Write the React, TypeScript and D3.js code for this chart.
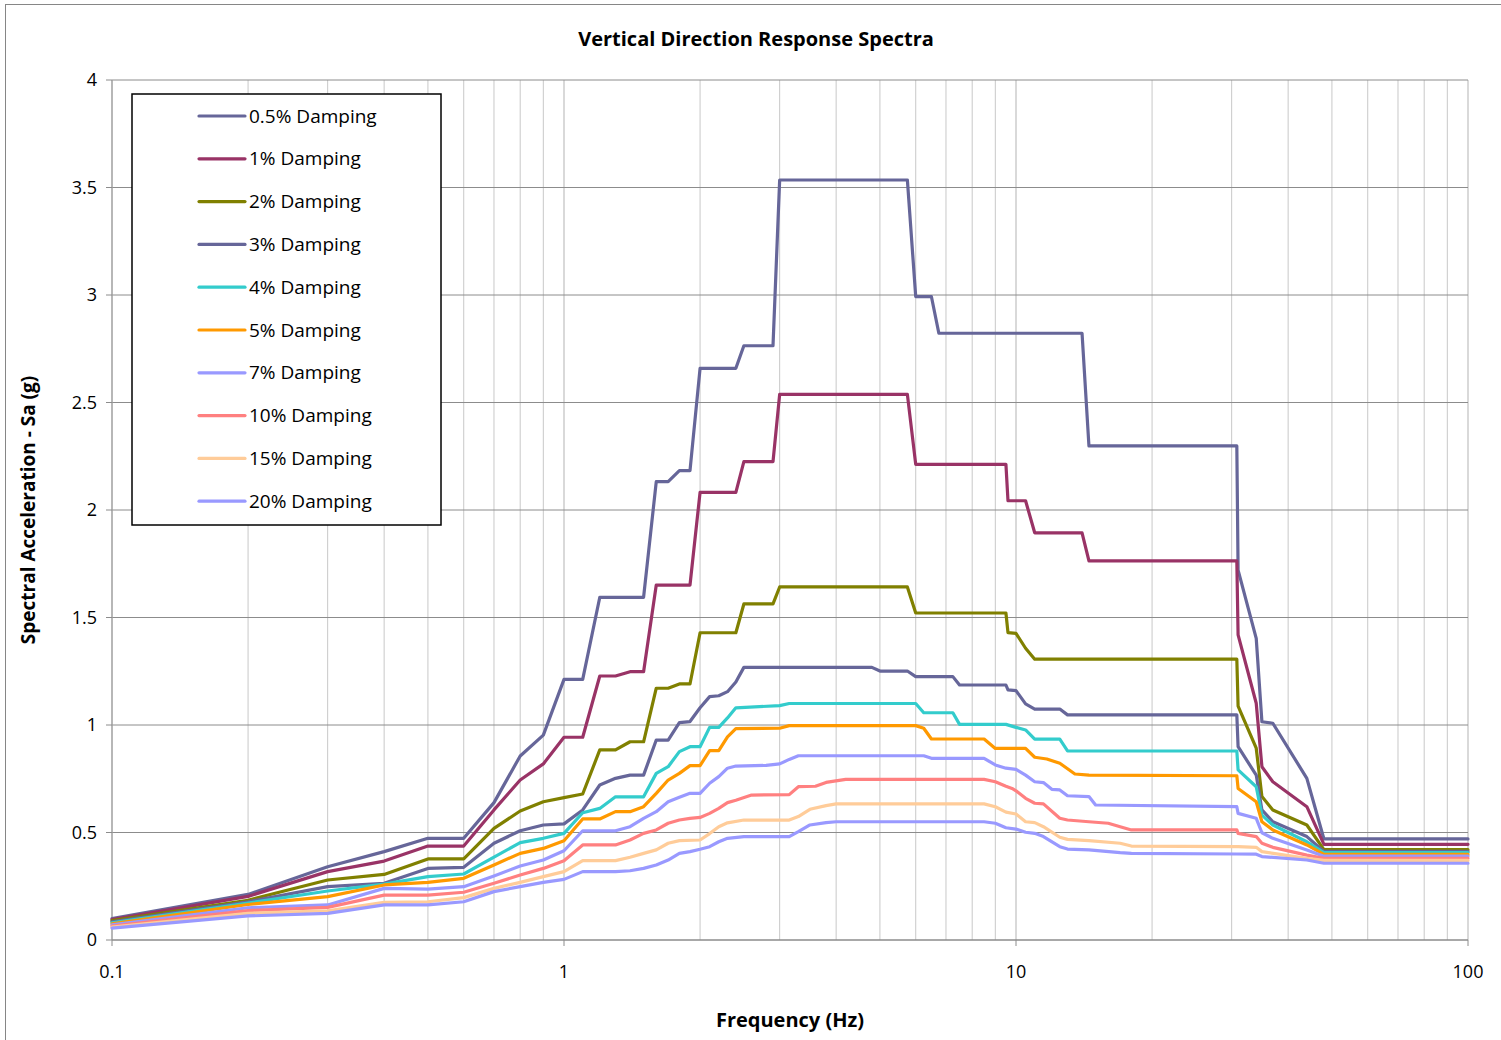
import React from "react";
import * as d3 from "d3";

const TITLE = "Vertical Direction Response Spectra";
const X_LABEL = "Frequency (Hz)";
const Y_LABEL = "Spectral Acceleration - Sa (g)";
const X_TICKS = [0.1, 1, 10, 100];
const Y_TICKS = [0, 0.5, 1, 1.5, 2, 2.5, 3, 3.5, 4];

const SERIES_NAMES = [
  "0.5% Damping", "1% Damping", "2% Damping", "3% Damping", "4% Damping",
  "5% Damping", "7% Damping", "10% Damping", "15% Damping", "20% Damping",
];
const SERIES_COLORS = [
  "#666699", "#993366", "#808000", "#666699", "#33CCCC",
  "#FF9900", "#9999FF", "#FF8080", "#FFCC99", "#9999FF",
];

// [frequency Hz, Sa g]
const damp05: [number, number][] = [
  [0.1, 0.1], [0.2, 0.212], [0.3, 0.341], [0.4, 0.411], [0.5, 0.473], [0.6, 0.473],
  [0.7, 0.639], [0.8, 0.856], [0.9, 0.953], [1.0, 1.212], [1.1, 1.212], [1.2, 1.594],
  [1.5, 1.594], [1.6, 2.132], [1.7, 2.132], [1.8, 2.183], [1.9, 2.183], [2.0, 2.659],
  [2.4, 2.659], [2.5, 2.764], [2.9, 2.764], [3.0, 3.535], [5.75, 3.535], [6.0, 2.992],
  [6.5, 2.992], [6.75, 2.822], [14, 2.822], [14.5, 2.298], [30.8, 2.298], [31, 1.72],
  [34, 1.403], [35, 1.015], [37, 1.008], [44, 0.752], [48, 0.47], [100, 0.47],
];
const damp1: [number, number][] = [
  [0.1, 0.095], [0.2, 0.203], [0.3, 0.318], [0.4, 0.367], [0.5, 0.437], [0.6, 0.437],
  [0.7, 0.605], [0.8, 0.744], [0.9, 0.819], [1.0, 0.943], [1.1, 0.943], [1.2, 1.228],
  [1.3, 1.228], [1.4, 1.248], [1.5, 1.248], [1.6, 1.651], [1.9, 1.651], [2.0, 2.082],
  [2.4, 2.082], [2.5, 2.225], [2.9, 2.225], [3.0, 2.538], [5.75, 2.538], [6.0, 2.212],
  [9.5, 2.212], [9.6, 2.043], [10.5, 2.043], [11, 1.894], [14, 1.894], [14.5, 1.763],
  [30.8, 1.763], [31, 1.419], [34, 1.101], [35, 0.806], [37, 0.736], [44, 0.62],
  [48, 0.445], [100, 0.445],
];
const damp2: [number, number][] = [
  [0.1, 0.09], [0.2, 0.185], [0.3, 0.279], [0.4, 0.305], [0.5, 0.377], [0.6, 0.377],
  [0.7, 0.519], [0.8, 0.6], [0.9, 0.643], [1.0, 0.662], [1.1, 0.679], [1.2, 0.884],
  [1.3, 0.884], [1.4, 0.922], [1.5, 0.922], [1.6, 1.171], [1.7, 1.171], [1.8, 1.191],
  [1.9, 1.191], [2.0, 1.429], [2.4, 1.429], [2.5, 1.563], [2.9, 1.563], [3.0, 1.642],
  [5.75, 1.642], [6.0, 1.521], [9.5, 1.521], [9.6, 1.43], [10, 1.426], [10.5, 1.357],
  [11, 1.306], [30.8, 1.306], [31, 1.088], [34, 0.892], [35, 0.667], [37, 0.605],
  [44, 0.535], [48, 0.42], [100, 0.42],
];
const damp3: [number, number][] = [
  [0.1, 0.085], [0.2, 0.178], [0.3, 0.248], [0.4, 0.264], [0.5, 0.333], [0.6, 0.338],
  [0.7, 0.45], [0.8, 0.508], [0.9, 0.535], [1.0, 0.54], [1.1, 0.605], [1.2, 0.721],
  [1.3, 0.752], [1.4, 0.767], [1.5, 0.767], [1.6, 0.93], [1.7, 0.93], [1.8, 1.011],
  [1.9, 1.016], [2.0, 1.08], [2.1, 1.132], [2.2, 1.136], [2.3, 1.155], [2.4, 1.2],
  [2.5, 1.268], [4.8, 1.268], [5.0, 1.251], [5.75, 1.251], [6.0, 1.225], [7.25, 1.225],
  [7.5, 1.186], [9.5, 1.186], [9.6, 1.163], [10, 1.16], [10.5, 1.098], [11, 1.074],
  [12.5, 1.074], [13, 1.047], [30.8, 1.047], [31, 0.899], [34, 0.767], [35, 0.605],
  [37, 0.55], [44, 0.481], [48, 0.412], [100, 0.412],
];
const damp4: [number, number][] = [
  [0.1, 0.08], [0.2, 0.172], [0.3, 0.228], [0.4, 0.26], [0.5, 0.295], [0.6, 0.307],
  [0.7, 0.385], [0.8, 0.453], [0.9, 0.473], [1.0, 0.496], [1.1, 0.592], [1.2, 0.612],
  [1.3, 0.666], [1.5, 0.666], [1.6, 0.775], [1.7, 0.806], [1.8, 0.876], [1.9, 0.899],
  [2.0, 0.899], [2.1, 0.989], [2.2, 0.989], [2.3, 1.033], [2.4, 1.08], [3.0, 1.09],
  [3.15, 1.1], [6.0, 1.1], [6.25, 1.057], [7.25, 1.057], [7.5, 1.003], [9.5, 1.003],
  [10, 0.989], [10.5, 0.977], [11, 0.934], [12.5, 0.934], [13, 0.88], [30.8, 0.879],
  [31, 0.791], [34, 0.713], [35, 0.581], [37, 0.535], [44, 0.457], [48, 0.407], [100, 0.407],
];
const damp5: [number, number][] = [
  [0.1, 0.075], [0.2, 0.165], [0.3, 0.202], [0.4, 0.256], [0.5, 0.268], [0.6, 0.287],
  [0.7, 0.349], [0.8, 0.403], [0.9, 0.426], [1.0, 0.462], [1.1, 0.563], [1.2, 0.563],
  [1.3, 0.597], [1.4, 0.597], [1.5, 0.62], [1.6, 0.682], [1.7, 0.744], [1.8, 0.775],
  [1.9, 0.811], [2.0, 0.811], [2.1, 0.881], [2.2, 0.881], [2.3, 0.945], [2.4, 0.983],
  [3.0, 0.985], [3.15, 0.997], [6.0, 0.997], [6.25, 0.985], [6.5, 0.935], [8.5, 0.935],
  [9.0, 0.891], [10.5, 0.891], [11, 0.85], [11.7, 0.842], [12.5, 0.822], [13.5, 0.772],
  [14.5, 0.767], [30.8, 0.764], [31, 0.705], [34, 0.643], [35, 0.55], [37, 0.512],
  [44, 0.442], [48, 0.398], [100, 0.398],
];
const damp7: [number, number][] = [
  [0.1, 0.07], [0.2, 0.15], [0.3, 0.163], [0.4, 0.24], [0.5, 0.237], [0.6, 0.248],
  [0.7, 0.298], [0.8, 0.344], [0.9, 0.372], [1.0, 0.415], [1.1, 0.508], [1.3, 0.508],
  [1.4, 0.527], [1.5, 0.566], [1.6, 0.597], [1.7, 0.643], [1.8, 0.664], [1.9, 0.682],
  [2.0, 0.682], [2.1, 0.729], [2.2, 0.76], [2.3, 0.799], [2.4, 0.809], [2.8, 0.812],
  [3.0, 0.819], [3.15, 0.84], [3.3, 0.857], [6.25, 0.857], [6.5, 0.845], [8.5, 0.845],
  [9.0, 0.814], [9.5, 0.799], [10, 0.794], [10.5, 0.767], [11, 0.736], [11.5, 0.732],
  [12, 0.701], [12.5, 0.698], [13, 0.671], [14.5, 0.667], [15, 0.628], [30.8, 0.62],
  [31, 0.589], [34, 0.566], [35, 0.499], [37, 0.473], [44, 0.419], [48, 0.39], [100, 0.39],
];
const damp10: [number, number][] = [
  [0.1, 0.065], [0.2, 0.137], [0.3, 0.152], [0.4, 0.209], [0.5, 0.209], [0.6, 0.222],
  [0.7, 0.264], [0.8, 0.302], [0.9, 0.333], [1.0, 0.369], [1.1, 0.442], [1.3, 0.442],
  [1.4, 0.465], [1.5, 0.496], [1.6, 0.512], [1.7, 0.543], [1.8, 0.558], [1.9, 0.566],
  [2.0, 0.57], [2.1, 0.589], [2.2, 0.612], [2.3, 0.639], [2.4, 0.65], [2.6, 0.674],
  [3.15, 0.676], [3.3, 0.713], [3.6, 0.715], [3.8, 0.733], [4.2, 0.747], [8.5, 0.747],
  [9.0, 0.736], [9.5, 0.715], [9.8, 0.705], [10, 0.694], [10.5, 0.659], [11, 0.636],
  [11.5, 0.633], [12.5, 0.566], [13, 0.558], [14.5, 0.55], [16, 0.543], [17, 0.527],
  [18, 0.512], [30.8, 0.512], [31, 0.496], [34, 0.481], [35, 0.45], [37, 0.431],
  [44, 0.395], [48, 0.38], [100, 0.38],
];
const damp15: [number, number][] = [
  [0.1, 0.06], [0.2, 0.124], [0.3, 0.136], [0.4, 0.175], [0.5, 0.178], [0.6, 0.197],
  [0.7, 0.24], [0.8, 0.268], [0.9, 0.295], [1.0, 0.318], [1.1, 0.369], [1.3, 0.369],
  [1.4, 0.385], [1.5, 0.403], [1.6, 0.419], [1.7, 0.45], [1.8, 0.462], [2.0, 0.465],
  [2.1, 0.495], [2.2, 0.527], [2.3, 0.545], [2.5, 0.558], [3.15, 0.558], [3.3, 0.574],
  [3.5, 0.608], [3.8, 0.625], [4.0, 0.633], [8.5, 0.633], [9.0, 0.62], [9.5, 0.595],
  [10, 0.586], [10.5, 0.55], [11, 0.546], [11.5, 0.527], [12.5, 0.478], [13, 0.468],
  [14.5, 0.462], [17, 0.45], [18, 0.437], [31, 0.434], [34, 0.431], [35, 0.411],
  [44, 0.38], [48, 0.37], [100, 0.37],
];
const damp20: [number, number][] = [
  [0.1, 0.055], [0.2, 0.112], [0.3, 0.124], [0.4, 0.163], [0.5, 0.163], [0.6, 0.178],
  [0.7, 0.225], [0.8, 0.248], [0.9, 0.268], [1.0, 0.282], [1.1, 0.318], [1.3, 0.318],
  [1.4, 0.322], [1.5, 0.333], [1.6, 0.349], [1.7, 0.372], [1.8, 0.403], [1.9, 0.411],
  [2.0, 0.422], [2.1, 0.434], [2.2, 0.457], [2.3, 0.473], [2.5, 0.481], [3.15, 0.481],
  [3.3, 0.504], [3.5, 0.535], [3.8, 0.546], [4.0, 0.55], [8.5, 0.55], [9.0, 0.543],
  [9.5, 0.522], [10, 0.516], [10.5, 0.501], [11, 0.496], [11.5, 0.481], [12.5, 0.434],
  [13, 0.423], [14.5, 0.419], [17, 0.406], [18, 0.403], [30.8, 0.4], [34, 0.399],
  [35, 0.388], [44, 0.372], [48, 0.357], [100, 0.357],
];

const SERIES_DATA = [damp05, damp1, damp2, damp3, damp4, damp5, damp7, damp10, damp15, damp20];

const FONT = "'Open Sans', Lato, sans-serif";

export default function App() {
  const W = 1501;
  const H = 1040;
  const left = 112, right = 1468, top = 80, bottom = 940;
  const x = d3.scaleLog().domain([0.1, 100]).range([left, right]);
  const y = d3.scaleLinear().domain([0, 4]).range([bottom, top]);

  const minor: number[] = [];
  [0.1, 1, 10].forEach((d) => {
    for (let k = 2; k <= 9; k++) minor.push(d * k);
  });

  const line = d3
    .line<[number, number]>()
    .x((d) => x(d[0]))
    .y((d) => y(d[1]));

  const legendX = 132, legendY = 94, legendW = 309, legendH = 431;
  const rowStep = 42.8;

  return (
    <svg
      width={W}
      height={H}
      style={{ position: "absolute", left: 0, top: 0, background: "#fff" }}
      fontFamily={FONT}
    >
      <rect x={0} y={0} width={W} height={H} fill="#fff" />
      <rect x={5.5} y={4.5} width={W + 10} height={H + 10} fill="none" stroke="#868686" strokeWidth={1} />

      {minor.map((v, i) => (
        <line key={"mv" + i} x1={x(v)} x2={x(v)} y1={top} y2={bottom} stroke="#c8c8c8" strokeWidth={1} />
      ))}
      {X_TICKS.map((v, i) => (
        <line key={"Mv" + i} x1={x(v)} x2={x(v)} y1={top} y2={bottom} stroke="#c0c0c0" strokeWidth={1.2} />
      ))}
      {Y_TICKS.map((v, i) => (
        <line key={"h" + i} x1={left} x2={right} y1={y(v)} y2={y(v)} stroke="#8c8c8c" strokeWidth={1} />
      ))}
      <line x1={left} x2={left} y1={top} y2={bottom} stroke="#a0a0a0" strokeWidth={1.2} />
      <line x1={left} x2={right} y1={bottom} y2={bottom} stroke="#8c8c8c" strokeWidth={1.2} />
      {Y_TICKS.map((v, i) => (
        <line key={"yt" + i} x1={left - 6} x2={left} y1={y(v)} y2={y(v)} stroke="#8c8c8c" strokeWidth={1} />
      ))}
      {X_TICKS.map((v, i) => (
        <line key={"xt" + i} x1={x(v)} x2={x(v)} y1={bottom} y2={bottom + 6} stroke="#8c8c8c" strokeWidth={1} />
      ))}

      {Y_TICKS.map((v, i) => (
        <text key={"yl" + i} x={left - 15} y={y(v)} dy="0.35em" textAnchor="end" fontSize={18} fill="#000">
          {String(v)}
        </text>
      ))}
      {X_TICKS.map((v, i) => (
        <text key={"xl" + i} x={x(v)} y={972} dy="0.35em" textAnchor="middle" fontSize={18} fill="#000">
          {String(v)}
        </text>
      ))}

      {SERIES_DATA.map((d, i) => (
        <path
          key={"s" + i}
          d={line(d) || ""}
          fill="none"
          stroke={SERIES_COLORS[i]}
          strokeWidth={3.2}
          strokeLinejoin="round"
          strokeLinecap="round"
        />
      ))}

      <text x={756} y={39} dy="0.35em" textAnchor="middle" fontSize={20} fontWeight="bold" fill="#000">
        {TITLE}
      </text>
      <text x={790} y={1020} dy="0.35em" textAnchor="middle" fontSize={20} fontWeight="bold" fill="#000">
        {X_LABEL}
      </text>
      <text
        transform={`translate(28,${(top + bottom) / 2}) rotate(-90)`}
        dy="0.35em"
        textAnchor="middle"
        fontSize={19}
        fontWeight="bold"
        fill="#000"
      >
        {Y_LABEL}
      </text>

      <rect x={legendX} y={legendY} width={legendW} height={legendH} fill="#fff" stroke="#000" strokeWidth={1.5} />
      {SERIES_NAMES.map((n, i) => {
        const ry = 116 + i * rowStep;
        return (
          <g key={"lg" + i}>
            <line x1={199} x2={245} y1={ry} y2={ry} stroke={SERIES_COLORS[i]} strokeWidth={3.2} strokeLinecap="round" />
            <text x={249} y={ry} dy="0.35em" fontSize={19} fill="#000">
              {n}
            </text>
          </g>
        );
      })}
    </svg>
  );
}
